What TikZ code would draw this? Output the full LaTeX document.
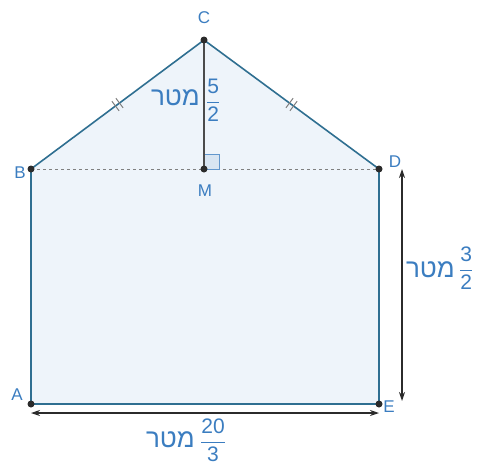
\documentclass[tikz,border=0pt]{standalone}
\usepackage{fontspec}
\setmainfont{Liberation Sans}
\newfontfamily\hebfont[Script=Hebrew]{Liberation Sans}
\TeXXeTstate=1
\usetikzlibrary{arrows.meta}
\definecolor{edgeblue}{HTML}{2F6F91}
\definecolor{fillblue}{HTML}{EEF4FA}
\definecolor{txtblue}{HTML}{3B7DC0}
\definecolor{darkpt}{HTML}{2B2B2B}
\tikzset{
  pt/.style={circle,fill=darkpt,inner sep=0pt,minimum size=7pt},
  lbl/.style={text=txtblue,font=\fontsize{17}{19}\selectfont,inner sep=0pt},
  meas/.style={text=txtblue,inner sep=0pt},
  dimarrow/.style={draw=darkpt,line width=1.2pt,{Stealth[length=9pt,width=6pt]}-{Stealth[length=9pt,width=6pt]}},
  tick/.style={draw=gray,line width=1pt}
}
\newcommand\heb{{\hebfont\fontsize{26}{28}\selectfont\beginR מטר\endR}}
\newcommand\fr[2]{{\fontsize{21}{23}\selectfont$\displaystyle\frac{\hbox{#1}}{\hbox{#2}}$}}
\begin{document}
\begin{tikzpicture}[x=1pt,y=-1pt]
\useasboundingbox (0,0) rectangle (482,472);
\coordinate (A) at (31,404);
\coordinate (B) at (31,169);
\coordinate (C) at (204,40);
\coordinate (D) at (379,169);
\coordinate (E) at (379,404);
\coordinate (M) at (204,169);
\fill[fillblue] (A) -- (B) -- (C) -- (D) -- (E) -- cycle;
\draw[gray,dashed,line width=0.9pt] (B) -- (D);
\draw[fill=txtblue!20,draw=txtblue!80,line width=0.8pt] (M) rectangle ++(15,-15);
\draw[darkpt!85,line width=1.3pt] (C) -- (M);
\draw[edgeblue,line width=1.6pt,line join=round] (D) -- (E) -- (A) -- (B) -- (C) -- (D);
% tick marks
\coordinate (t1a) at (111.9,101.2); \coordinate (t1b) at (119.1,110.8);
\coordinate (t2a) at (115.9,98.2);  \coordinate (t2b) at (123.1,107.8);
\coordinate (t3a) at (293.1,98.2);  \coordinate (t3b) at (285.9,107.8);
\coordinate (t4a) at (297.1,101.2); \coordinate (t4b) at (289.9,110.8);
\draw[tick] (t1a) -- (t1b);
\draw[tick] (t2a) -- (t2b);
\draw[tick] (t3a) -- (t3b);
\draw[tick] (t4a) -- (t4b);
% points
\node[pt] (pA) at (A) {};
\node[pt] (pB) at (B) {};
\node[pt] (pC) at (C) {};
\node[pt] (pD) at (D) {};
\node[pt] (pE) at (E) {};
\node[pt] (pM) at (M) {};
% labels
\node[lbl] at (204,18) {C};
\node[lbl] at (20,173) {B};
\node[lbl] at (205,191) {M};
\node[lbl] at (395,162) {D};
\node[lbl] at (17,395) {A};
\node[lbl] at (389,407) {E};
% dimension arrows
\coordinate (b1) at (31,413);
\coordinate (b2) at (379,413);
\coordinate (r1) at (402,169);
\coordinate (r2) at (402,401);
\draw[dimarrow] (b1) -- (b2);
\draw[dimarrow] (r1) -- (r2);
% measure texts
\node[meas,anchor=east] (h1) at (200,98) {\heb};
\node[meas,anchor=west] (f1) at (206,100) {\fr{5}{2}};
\node[meas,anchor=east] (h2) at (455,270) {\heb};
\node[meas,anchor=west] (f2) at (459,268) {\fr{3}{2}};
\node[meas,anchor=east] (h3) at (195,440) {\heb};
\node[meas,anchor=west] (f3) at (200,440) {\fr{20}{3}};
\end{tikzpicture}
\end{document}
